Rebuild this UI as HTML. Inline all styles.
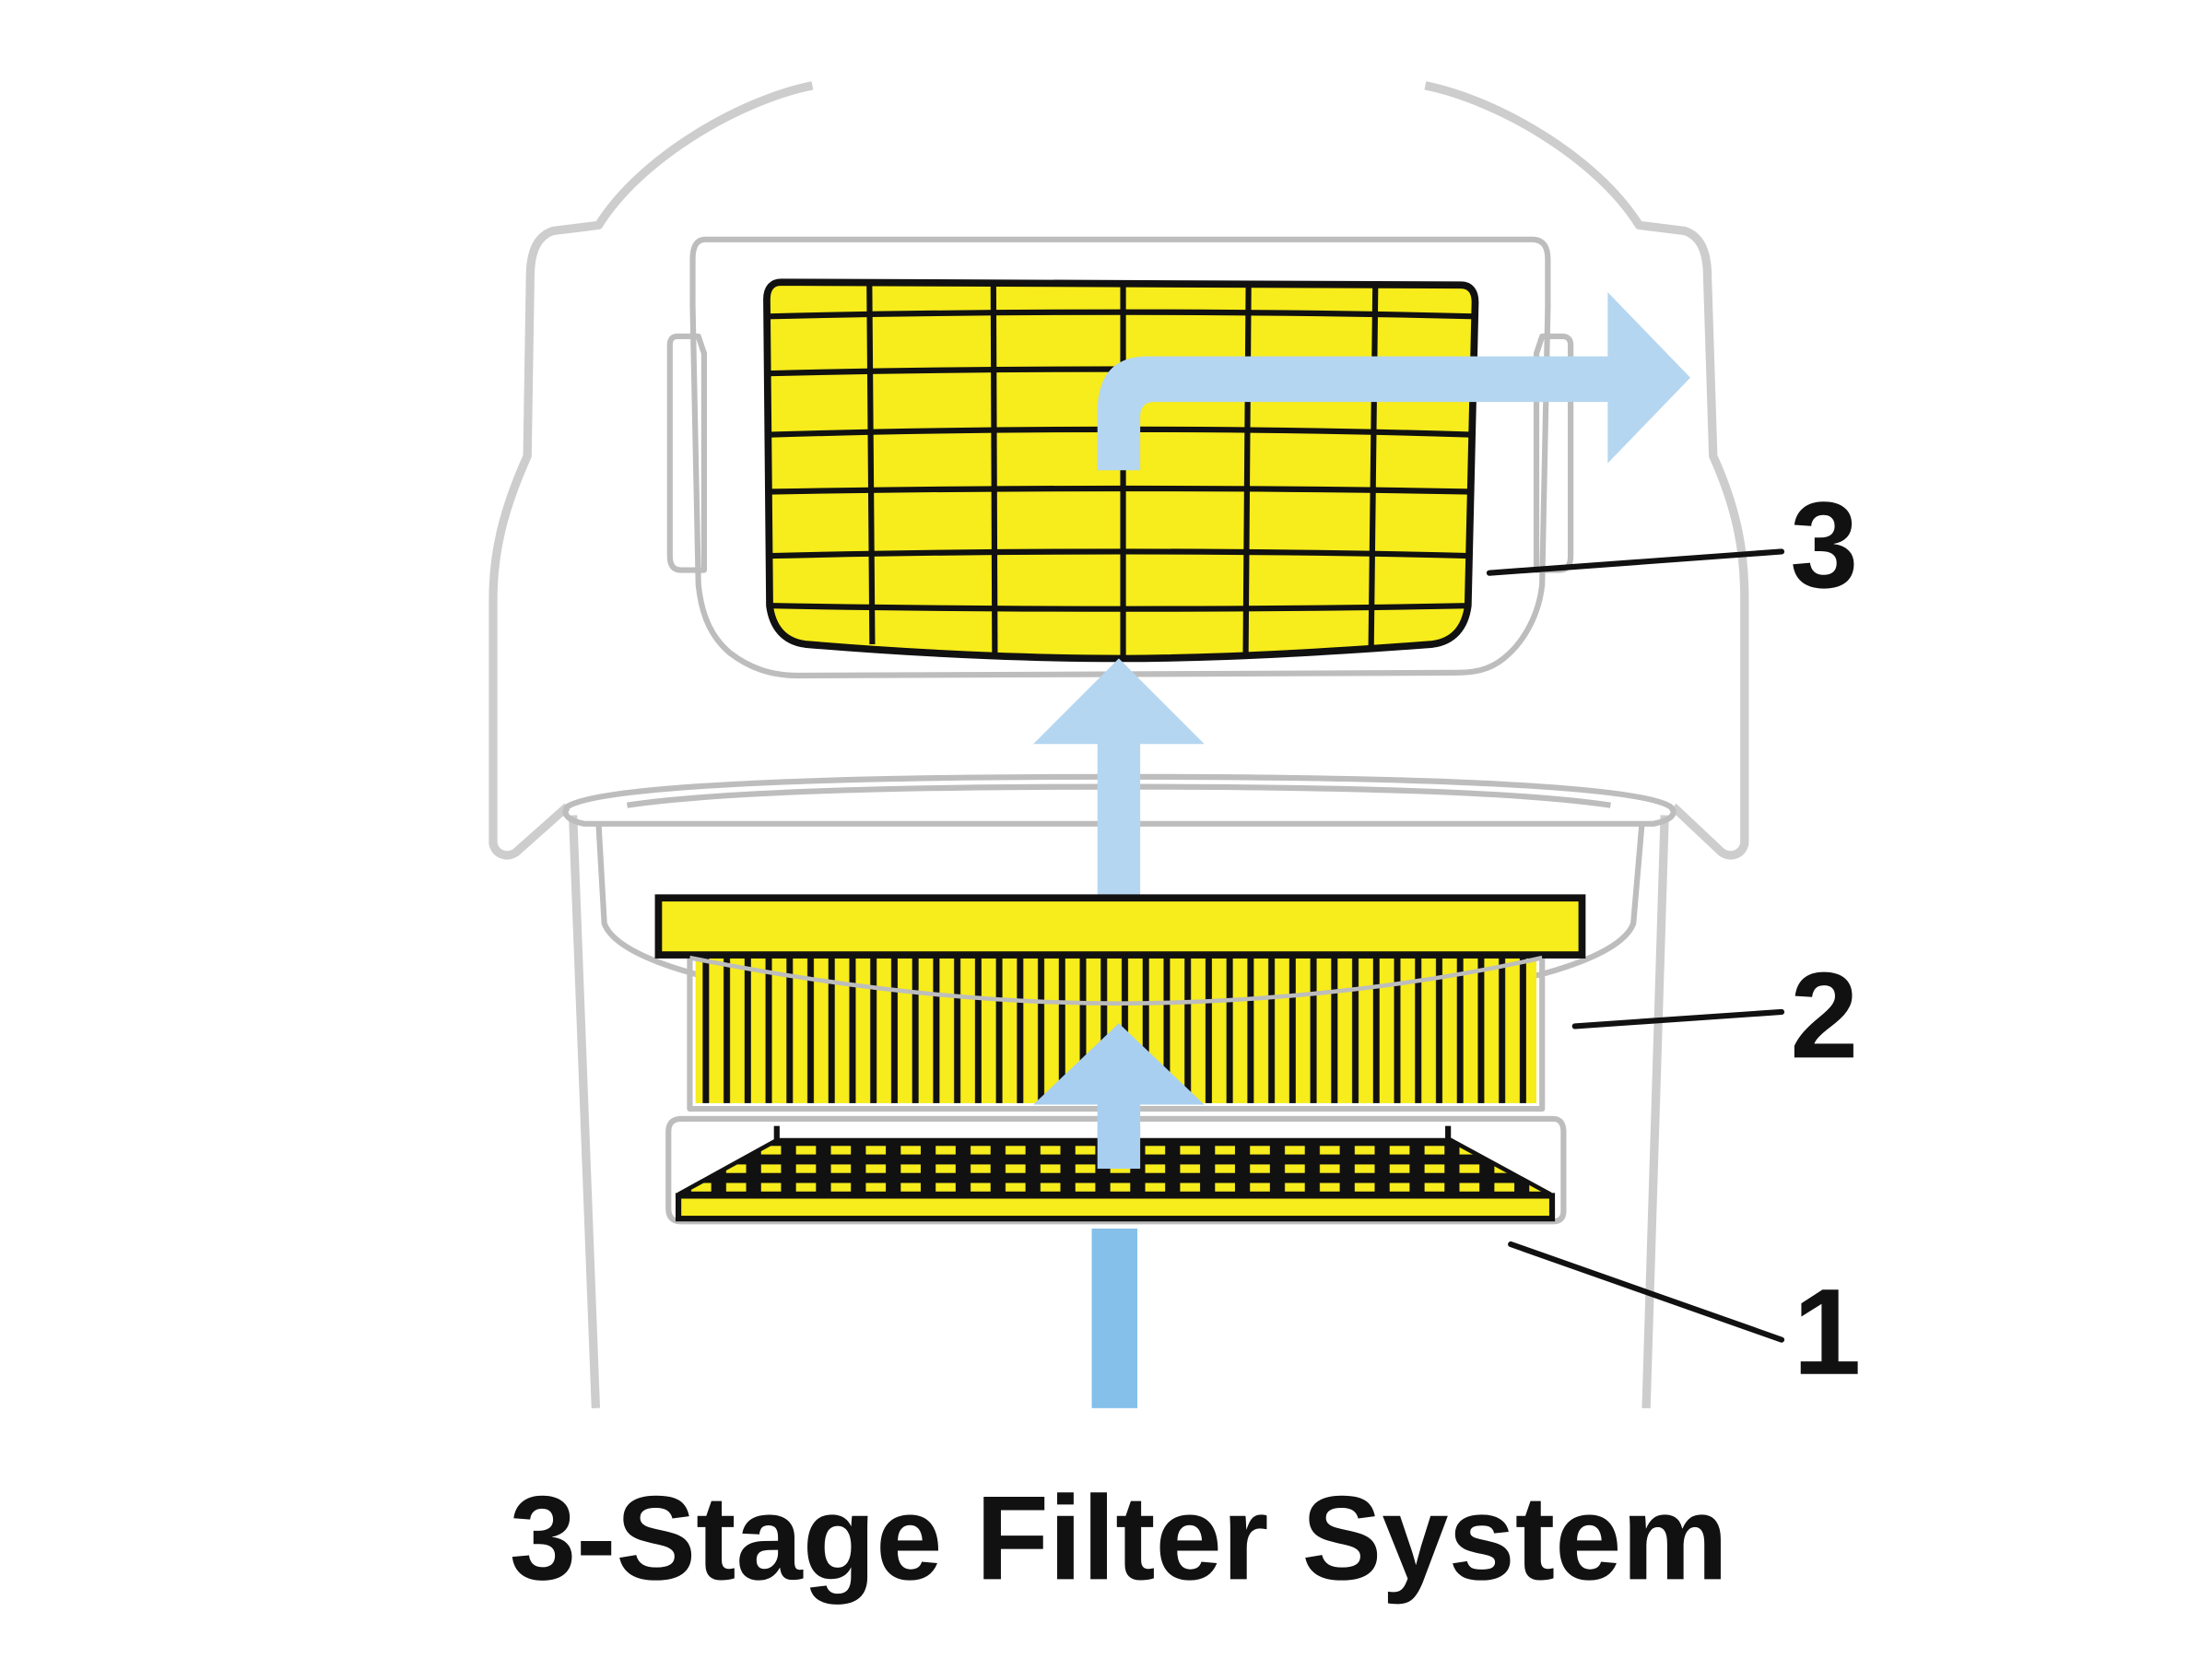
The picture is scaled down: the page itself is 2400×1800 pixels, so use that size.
<!DOCTYPE html>
<html><head><meta charset="utf-8"><style>html,body{margin:0;padding:0;background:#fff}svg{display:block}</style></head>
<body>
<svg width="2400" height="1800" viewBox="0 0 1552 1164" xmlns="http://www.w3.org/2000/svg">
<defs>
<pattern id="pleat" x="488" y="0" width="14.7" height="200" patternUnits="userSpaceOnUse">
<rect x="0" y="0" width="14.7" height="200" fill="#f7ec1c"/>
<rect x="5" y="0" width="4.5" height="200" fill="#111"/>
</pattern>
<pattern id="holes" x="480" y="800" width="24.5" height="13" patternUnits="userSpaceOnUse">
<rect width="24.5" height="13" fill="#111"/>
<rect x="5" y="4" width="14" height="6" fill="#f7ec1c"/>
</pattern>
</defs>
<g fill="none" stroke="#cdcdcd" stroke-width="6" stroke-linejoin="round">
<path d="M570 60 C520 70 450 110 420 158 L388 162 C376 166 372 178 372 195 L370 320 C352 360 346 390 346 420 L346 592 C348 600 356 602 362 598 L398 566"/>
<path d="M1000 60 C1050 70 1120 110 1150 158 L1182 162 C1194 166 1198 178 1198 195 L1202 320 C1220 360 1224 390 1224 420 L1224 592 C1222 600 1214 602 1208 598 L1174 566"/>
<path d="M402 572 L418 988"/><path d="M1168 572 L1155 988"/>
</g>
<g fill="none" stroke="#bdbdbd" stroke-width="4" stroke-linejoin="round">
<path d="M495 168 L1075 168 C1084 168 1086 175 1086 182 L1086 215 L1082 410 C1080 430 1070 450 1055 462 C1045 470 1035 472 1020 472 L560 474 C540 474 525 468 512 458 C498 446 492 430 490 410 L486 215 L486 182 C486 174 488 168 495 168 Z"/>
<path d="M475 236 L490 236 L494 248 L494 400 L478 400 C472 400 470 396 470 390 L470 242 C470 238 472 236 475 236 Z"/>
<path d="M1096 236 L1082 236 L1078 248 L1078 400 L1094 400 C1100 400 1102 396 1102 390 L1102 242 C1102 238 1100 236 1096 236 Z"/>
<path d="M398 566 C420 552 560 545 785 545 C1010 545 1150 552 1172 566 C1178 572 1170 576 1160 578 L410 578 C400 576 394 572 398 566 Z"/>
<path d="M440 565 C500 556 620 552 785 552 C950 552 1070 556 1130 565"/>
<path d="M420 578 L424 648 C430 664 460 676 490 684 C590 700 700 704 785 704 C870 704 980 700 1080 684 C1110 676 1140 664 1146 648 L1152 578"/>
<path d="M484 672 L484 778 L1082 778 L1082 672"/>
<path d="M478 785 L1090 785 C1095 785 1097 789 1097 794 L1097 850 C1097 855 1094 857 1090 857 L478 857 C472 857 469 854 469 848 L469 794 C469 788 472 785 478 785 Z"/>
</g>
<path d="M548 198 L1025 200 C1032 200 1035 205 1035 212 L1030 425 C1028 440 1020 450 1005 452 C900 460 830 462 785 462 C740 462 660 460 565 452 C550 450 542 440 540 425 L538 210 C538 202 542 198 548 198 Z" fill="#f7ec1c" stroke="#111" stroke-width="5"/>
<g stroke="#111" stroke-width="4" fill="none">
<path d="M610 200 L612 452"/><path d="M697 200 L698 458"/><path d="M788 200 L788 462"/><path d="M876 200 L874 460"/><path d="M965 200 L962 456"/>
<path d="M539 222 C700 218 880 218 1035 222"/>
<path d="M539 262 C700 258 880 258 1034 262"/>
<path d="M540 305 C700 300 880 300 1033 305"/>
<path d="M540 345 C700 342 880 342 1032 345"/>
<path d="M541 390 C700 386 880 386 1031 390"/>
<path d="M542 425 C700 428 880 428 1030 425"/>
</g>
<path d="M770 330 L770 290 C770 265 780 250 805 250 L1128 250 L1128 205 L1186 265 L1128 325 L1128 282 L810 282 C803 282 800 286 800 293 L800 330 Z" fill="#b5d6f0"/>
<path d="M770 628 L770 522 L725 522 L785 462 L845 522 L800 522 L800 628 Z" fill="#b5d6f0"/>
<rect x="488" y="672" width="590" height="102" fill="url(#pleat)"/>
<rect x="462" y="630" width="648" height="40" fill="#f7ec1c" stroke="#111" stroke-width="5"/>
<path d="M484 672 C600 695 700 704 785 704 C870 704 980 695 1082 672" fill="none" stroke="#bdbdbd" stroke-width="3"/>
<path d="M770 820 L770 775 L725 775 L785 718 L845 775 L800 775 L800 820 Z" fill="#a9cff0"/>
<path d="M545 800 L1018 800 L1088 838 L476 838 Z" fill="url(#holes)" stroke="#111" stroke-width="3"/>
<path d="M545 790 L545 800" stroke="#111" stroke-width="4"/><path d="M1016 790 L1016 800" stroke="#111" stroke-width="4"/>
<rect x="770" y="790" width="30" height="30" fill="#a9cff0"/>
<rect x="476" y="839" width="613" height="16" fill="#f7ec1c" stroke="#111" stroke-width="4"/>
<rect x="766" y="862" width="32" height="126" fill="#85c0ea"/>
<g stroke="#111" stroke-width="4" stroke-linecap="round">
<path d="M1045 402 L1250 387"/><path d="M1105 720 L1250 710"/><path d="M1060 873 L1250 940"/>
</g>
<g font-family="'Liberation Sans',sans-serif" font-weight="bold" fill="#111" font-size="86">
<text x="1256" y="412">3</text><text x="1256" y="742">2</text><text x="1258" y="964">1</text>
<text x="785" y="1108" text-anchor="middle" font-size="84" textLength="855" lengthAdjust="spacingAndGlyphs">3-Stage Filter System</text>
</g>
</svg>
</body></html>
